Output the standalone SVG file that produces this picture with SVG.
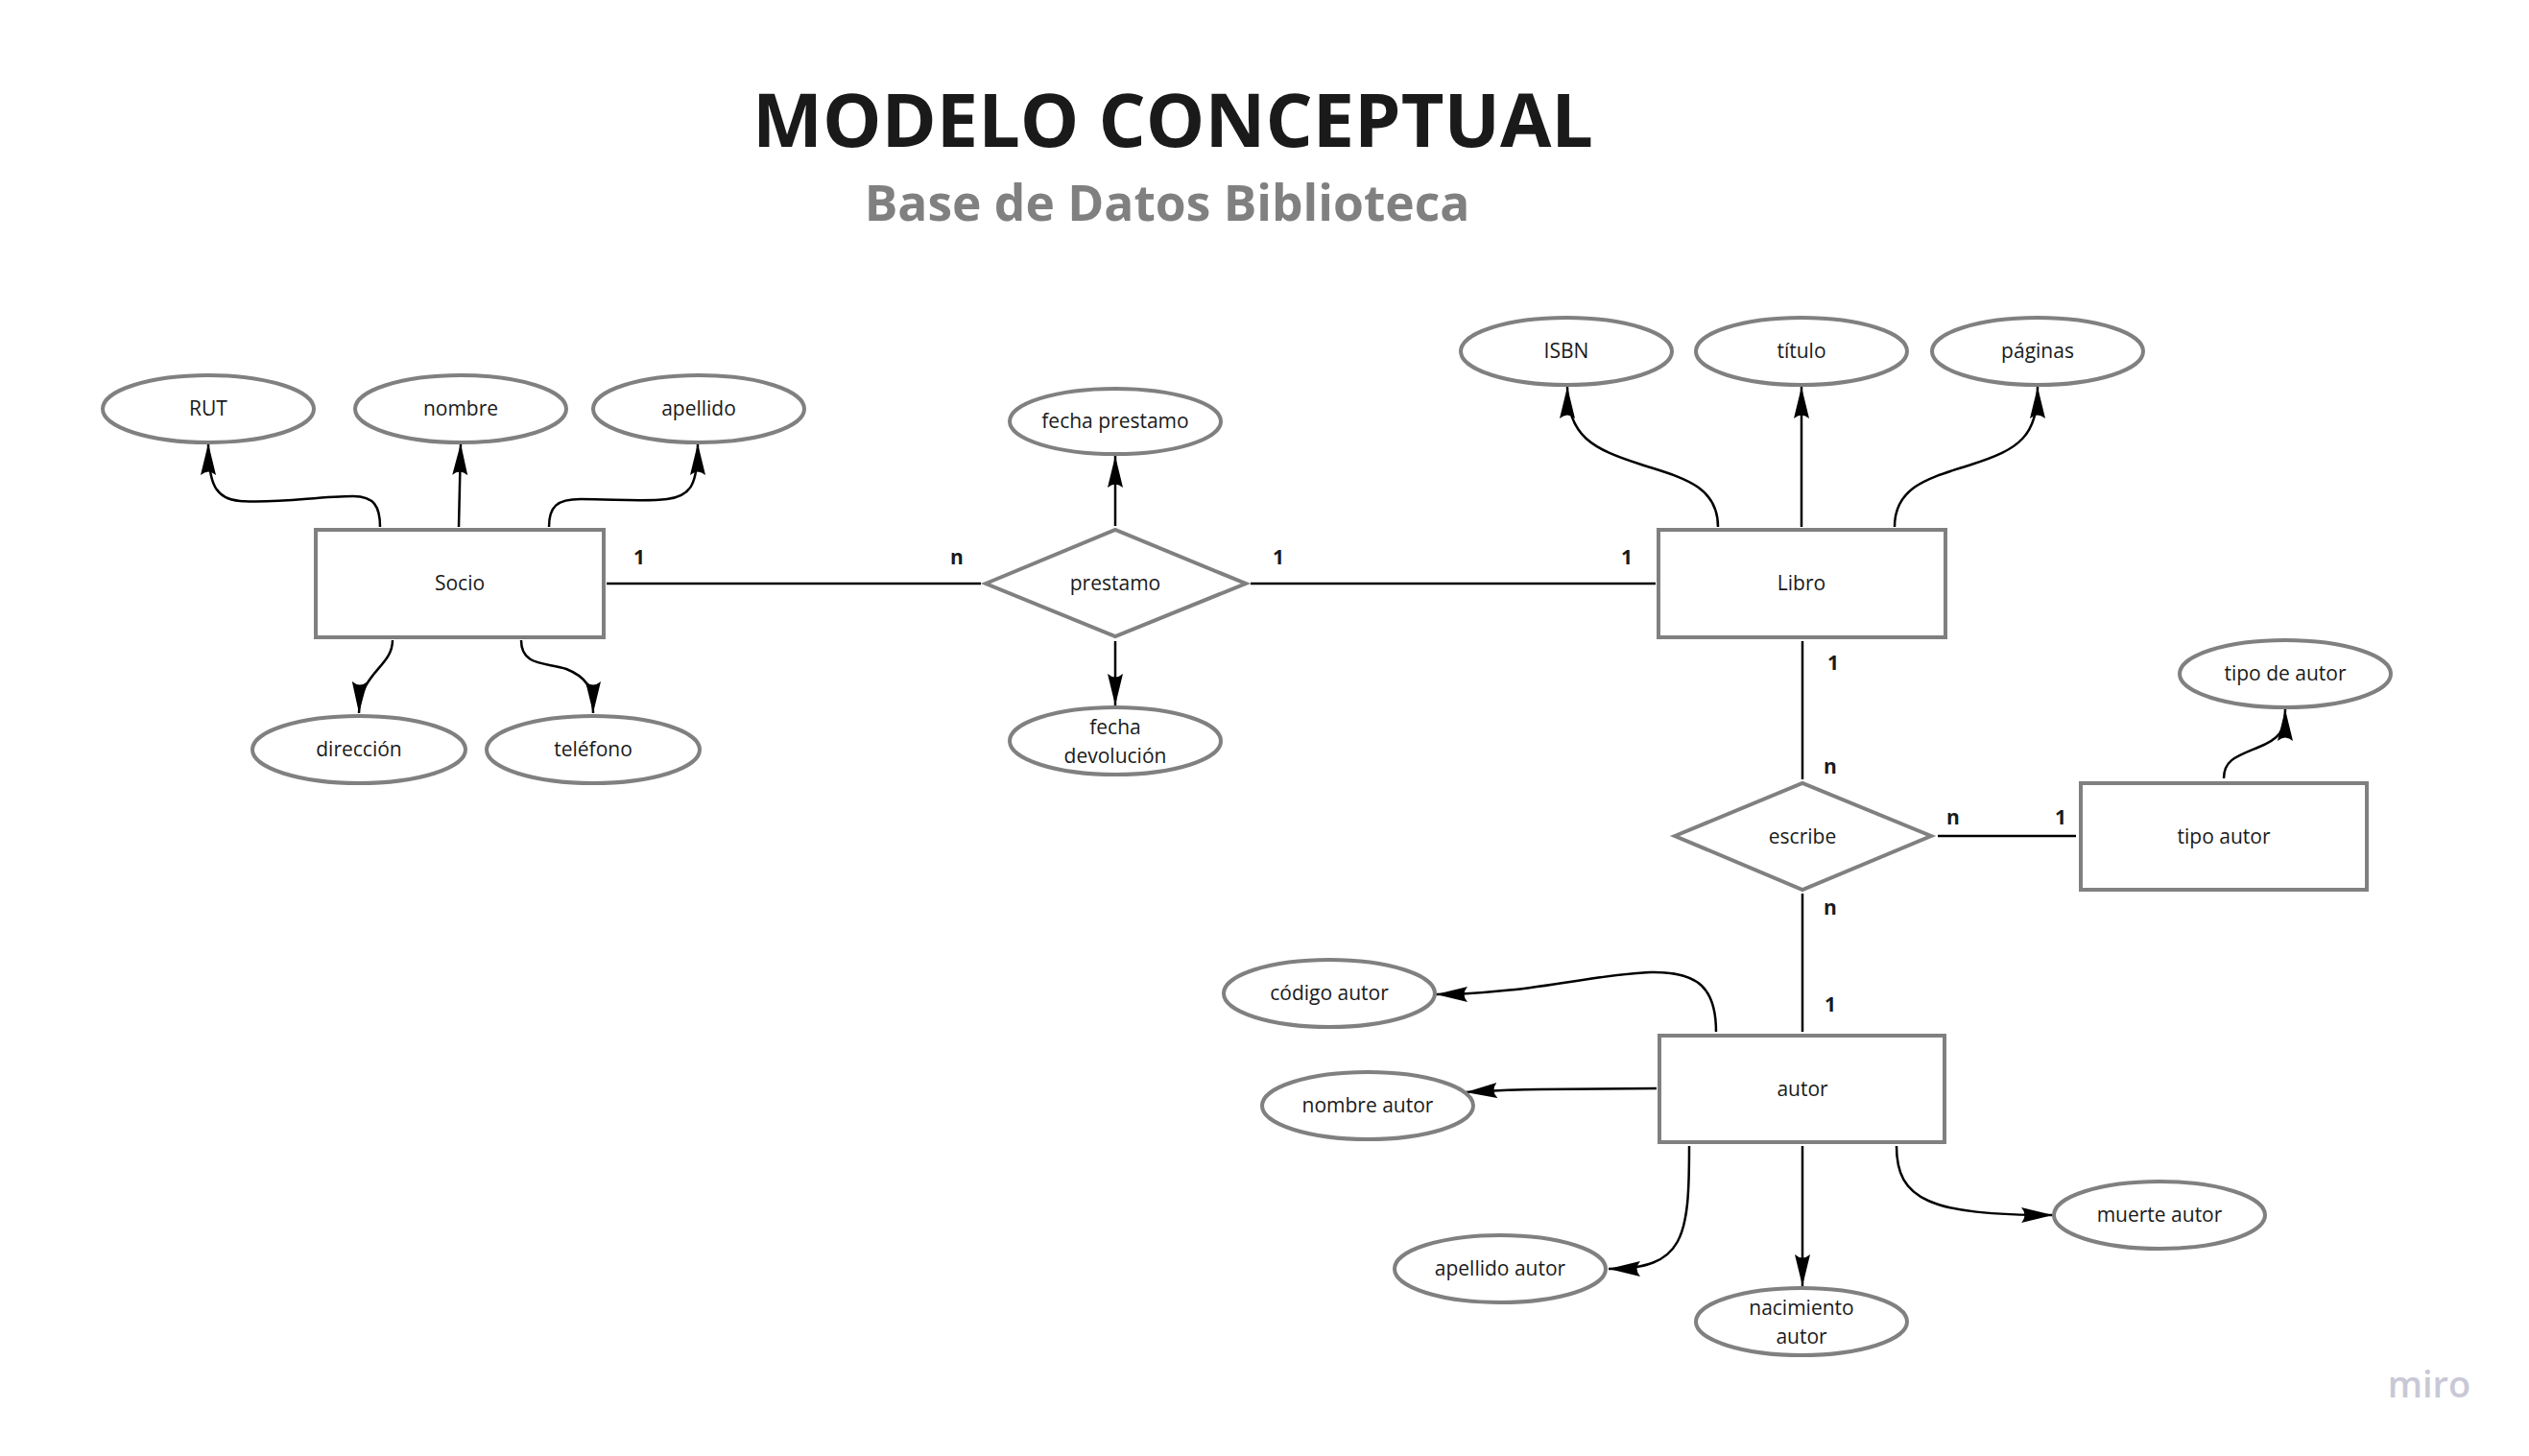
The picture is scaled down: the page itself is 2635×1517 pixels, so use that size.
<svg xmlns="http://www.w3.org/2000/svg" width="2635" height="1517" viewBox="0 0 2635 1517">
<style>
.bg{fill:#ffffff}
.shape{fill:#ffffff;stroke:#808080;stroke-width:4}
.lbl{font-family:"Open Sans","Liberation Sans",sans-serif;font-size:21px;fill:#1a1a1a;text-anchor:middle}
.card{font-family:"Open Sans","Liberation Sans",sans-serif;font-size:21px;font-weight:bold;fill:#1a1a1a;text-anchor:middle}
.line{fill:none;stroke:#000000;stroke-width:2.5}
.arrow{fill:none;stroke:#000000;stroke-width:2.5;marker-end:url(#ah)}
</style>
<defs>
<marker id="ah" markerUnits="userSpaceOnUse" markerWidth="36" markerHeight="20" refX="33" refY="9" orient="auto">
<path d="M33,9 L0,1 Q7,9 0,17 Z" fill="#000000"/>
</marker>
</defs>
<rect class="bg" x="0" y="0" width="2635" height="1517"/>
<text x="1222" y="153" font-family="'Open Sans','Liberation Sans',sans-serif" font-size="77.4" font-weight="bold" fill="#1a1a1a" text-anchor="middle">MODELO CONCEPTUAL</text>
<text x="1216" y="230" font-family="'Open Sans','Liberation Sans',sans-serif" font-size="51.5" font-weight="bold" fill="#808080" text-anchor="middle">Base de Datos Biblioteca</text>

<g id="connectors">
<path class="line" d="M632,608 L1022,608"/>
<path class="line" d="M1303,608 L1725,608"/>
<path class="line" d="M1878,668 L1878,812"/>
<path class="line" d="M1878,931 L1878,1075"/>
<path class="line" d="M2019,871 L2163,871"/>
<path class="arrow" d="M396,549 C396,528 390,517 368,517 C330,517 290,525 250,522 C225,520 217,505 217,462"/>
<path class="arrow" d="M478,549 L480,462"/>
<path class="arrow" d="M572,549 C572,528 580,520 605,520 C640,520 670,523 695,520 C720,517 727,505 727,462"/>
<path class="arrow" d="M409,667 C409,695 375,700 374,743"/>
<path class="arrow" d="M543,667 C543,695 570,690 590,697 C610,705 618,715 618,743"/>
<path class="arrow" d="M1162,548 L1162,475"/>
<path class="arrow" d="M1162,668 L1162,735"/>
<path class="arrow" d="M1790,549 C1790,505 1750,497 1710,484 C1660,468 1633,455 1633,403"/>
<path class="arrow" d="M1877,549 L1877,403"/>
<path class="arrow" d="M1974,549 C1974,505 2014,497 2054,484 C2104,468 2123,455 2123,403"/>
<path class="arrow" d="M2317,811 C2317,792 2330,788 2352,779 C2375,770 2381,762 2381,739"/>
<path class="arrow" d="M1788,1075 C1788,1030 1770,1012 1720,1013 C1660,1015 1590,1036 1496,1036"/>
<path class="arrow" d="M1726,1134 L1604,1135 C1580,1135 1560,1136 1527,1138"/>
<path class="arrow" d="M1760,1194 C1760,1290 1755,1322 1676,1322"/>
<path class="arrow" d="M1878,1194 L1878,1340"/>
<path class="arrow" d="M1976,1194 C1976,1250 2010,1266 2139,1266"/>
</g>

<g id="cardinalities">
<text class="card" x="666" y="588">1</text>
<text class="card" x="997" y="588">n</text>
<text class="card" x="1332" y="588">1</text>
<text class="card" x="1695" y="588">1</text>
<text class="card" x="1910" y="698">1</text>
<text class="card" x="1907" y="806">n</text>
<text class="card" x="2035" y="859">n</text>
<text class="card" x="2147" y="859">1</text>
<text class="card" x="1907" y="953">n</text>
<text class="card" x="1907" y="1054">1</text>
</g>

<g id="socio"><rect class="shape" x="329" y="552" width="300" height="112"/><text class="lbl" x="479" y="615">Socio</text></g>
<g id="libro"><rect class="shape" x="1728" y="552" width="299" height="112"/><text class="lbl" x="1877" y="615">Libro</text></g>
<g id="tipo-autor"><rect class="shape" x="2168" y="816" width="298" height="111"/><text class="lbl" x="2317" y="879">tipo autor</text></g>
<g id="autor"><rect class="shape" x="1729" y="1079" width="297" height="111"/><text class="lbl" x="1878" y="1142">autor</text></g>

<g id="prestamo"><polygon class="shape" points="1027,608 1162,552 1298,608 1162,663"/><text class="lbl" x="1162" y="615">prestamo</text></g>
<g id="escribe"><polygon class="shape" points="1745,871 1878,816 2012,871 1878,927"/><text class="lbl" x="1878" y="879">escribe</text></g>

<g id="rut"><ellipse class="shape" cx="217" cy="426" rx="110" ry="35"/><text class="lbl" x="217" y="433">RUT</text></g>
<g id="nombre"><ellipse class="shape" cx="480" cy="426" rx="110" ry="35"/><text class="lbl" x="480" y="433">nombre</text></g>
<g id="apellido"><ellipse class="shape" cx="728" cy="426" rx="110" ry="35"/><text class="lbl" x="728" y="433">apellido</text></g>
<g id="direccion"><ellipse class="shape" cx="374" cy="781" rx="111" ry="35"/><text class="lbl" x="374" y="788">dirección</text></g>
<g id="telefono"><ellipse class="shape" cx="618" cy="781" rx="111" ry="35"/><text class="lbl" x="618" y="788">teléfono</text></g>
<g id="fecha-prestamo"><ellipse class="shape" cx="1162" cy="439" rx="110" ry="34"/><text class="lbl" x="1162" y="446">fecha prestamo</text></g>
<g id="fecha-devolucion"><ellipse class="shape" cx="1162" cy="772" rx="110" ry="35"/><text class="lbl" x="1162" y="765">fecha</text><text class="lbl" x="1162" y="795">devolución</text></g>
<g id="isbn"><ellipse class="shape" cx="1632" cy="366" rx="110" ry="35"/><text class="lbl" x="1632" y="373">ISBN</text></g>
<g id="titulo"><ellipse class="shape" cx="1877" cy="366" rx="110" ry="35"/><text class="lbl" x="1877" y="373">título</text></g>
<g id="paginas"><ellipse class="shape" cx="2123" cy="366" rx="110" ry="35"/><text class="lbl" x="2123" y="373">páginas</text></g>
<g id="tipo-de-autor"><ellipse class="shape" cx="2381" cy="702" rx="110" ry="35"/><text class="lbl" x="2381" y="709">tipo de autor</text></g>
<g id="codigo-autor"><ellipse class="shape" cx="1385" cy="1035" rx="110" ry="35"/><text class="lbl" x="1385" y="1042">código autor</text></g>
<g id="nombre-autor"><ellipse class="shape" cx="1425" cy="1152" rx="110" ry="35"/><text class="lbl" x="1425" y="1159">nombre autor</text></g>
<g id="apellido-autor"><ellipse class="shape" cx="1563" cy="1322" rx="110" ry="35"/><text class="lbl" x="1563" y="1329">apellido autor</text></g>
<g id="nacimiento-autor"><ellipse class="shape" cx="1877" cy="1377" rx="110" ry="35"/><text class="lbl" x="1877" y="1370">nacimiento</text><text class="lbl" x="1877" y="1400">autor</text></g>
<g id="muerte-autor"><ellipse class="shape" cx="2250" cy="1266" rx="110" ry="35"/><text class="lbl" x="2250" y="1273">muerte autor</text></g>

<text x="2531" y="1456" font-family="'Open Sans','Liberation Sans',sans-serif" font-size="38" font-weight="600" fill="#c8c8d6" text-anchor="middle">miro</text>
</svg>
